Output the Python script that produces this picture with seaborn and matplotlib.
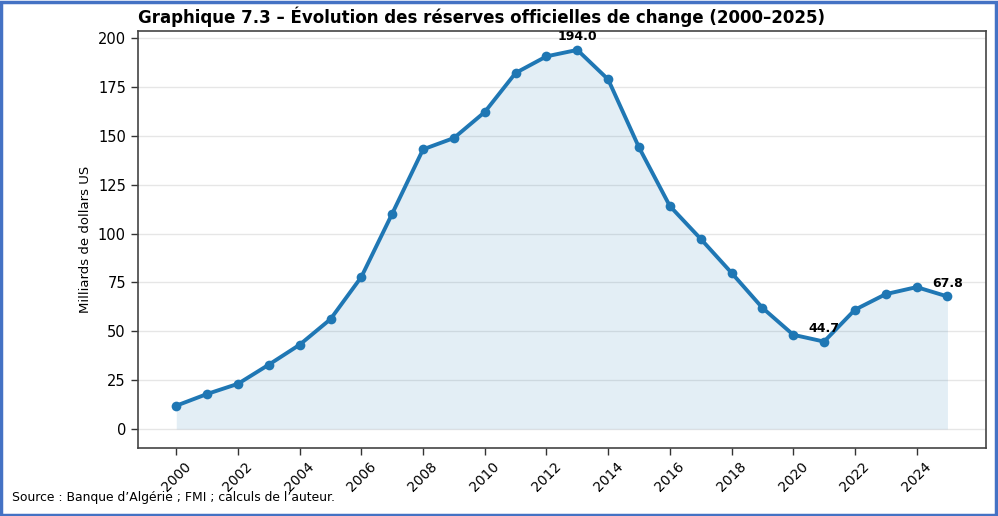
import matplotlib
matplotlib.use("Agg")
import matplotlib.pyplot as plt
import seaborn as sns
import pandas as pd
from matplotlib.patches import Rectangle

years = list(range(2000, 2026))
reserves = [11.9, 17.9, 23.1, 32.9, 43.1, 56.2, 77.8, 110.2, 143.1, 148.9,
            162.2, 182.2, 190.7, 194.0, 178.9, 144.1, 114.1, 97.3, 79.9, 62.0,
            48.2, 44.7, 61.0, 69.0, 72.6, 67.8]
annotated_years = [2013, 2021, 2025]
xtick_years = list(range(2000, 2025, 2))

title = "Graphique 7.3 – Évolution des réserves officielles de change (2000–2025)"
ylabel = "Milliards de dollars US"
source = "Source : Banque d’Algérie ; FMI ; calculs de l’auteur."

df = pd.DataFrame({"annee": years, "reserves": reserves})

sns.set_theme(style="white")
plt.rcParams['font.family'] = ['DejaVu Sans']
plt.rcParams['text.color'] = 'black'
plt.rcParams['axes.labelcolor'] = 'black'
plt.rcParams['xtick.color'] = 'black'
plt.rcParams['ytick.color'] = 'black'

fig = plt.figure(figsize=(9.98, 5.16), dpi=100)
ax = fig.add_axes([0.138, 0.132, 0.850, 0.808])

color = "#1f77b4"
ax.fill_between(df["annee"], df["reserves"], 0, color=color, alpha=0.12, linewidth=0)
sns.lineplot(data=df, x="annee", y="reserves", ax=ax, color=color, linewidth=2.8,
             marker="o", markersize=7, markeredgewidth=0)

for yr in annotated_years:
    v = df.loc[df["annee"] == yr, "reserves"].iloc[0]
    ax.annotate(f"{v:.1f}", (yr, v), xytext=(0, 5), textcoords="offset points",
                ha="center", va="bottom", fontsize=9, fontweight="bold", color="black")

ax.set_xticks(xtick_years)
ax.set_xticklabels([str(y) for y in xtick_years], rotation=45, fontsize=10)
ax.tick_params(axis="y", labelsize=10.5)
ax.tick_params(axis="both", which="both", length=5, width=1, color="#333333",
               labelcolor="black", bottom=True, left=True, direction="out")
ax.yaxis.grid(True, color="#e6e6e6", linewidth=1)
ax.xaxis.grid(False)
ax.set_axisbelow(True)
for s in ax.spines.values():
    s.set_color("#444444")
    s.set_linewidth(1.2)

ax.set_xlabel("")
ax.set_ylabel(ylabel, fontsize=9.5, color="black")
ax.set_title(title, loc="left", fontsize=12, fontweight="bold", pad=6, color="black")

fig.text(0.012, 0.035, source, fontsize=8.9, ha="left", va="center", color="black")

fig.patches.append(Rectangle((0.001, 0.002), 0.997, 0.995, transform=fig.transFigure,
                             fill=False, edgecolor="#4472C4", linewidth=2.5))

fig.savefig("out.png", dpi=100)
